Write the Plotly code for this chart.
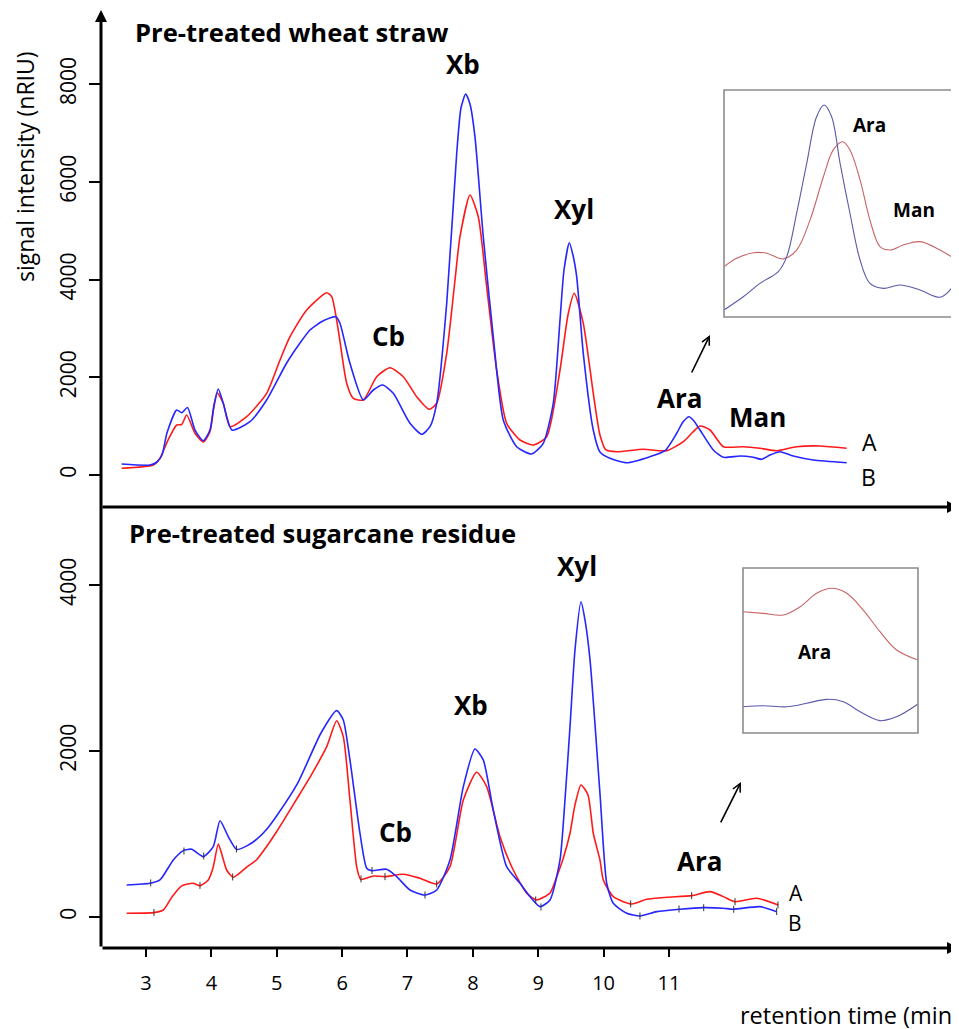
import plotly.graph_objects as go

# ---------------- data (retention time [min], signal [nRIU]) ----------------
TOP_A = [(2.628,137),(3.112,205),(3.214,342),(3.337,716),(3.470,1024),(3.546,1034),(3.623,1228),
         (3.750,854),(3.876,676),(3.979,886),(4.032,1331),(4.091,1679),(4.182,1468),(4.285,989),
         (4.540,1193),(4.846,1672),(5.050,2354),(5.203,2831),(5.458,3378),(5.764,3732),(5.841,3650),
         (5.941,2968),(6.070,1877),(6.171,1570),(6.324,1535),(6.529,2012),(6.732,2196),(6.936,2012),
         (7.141,1603),(7.333,1345),(7.447,1468),(7.600,2491),(7.727,3992),(7.803,4878),(7.956,5732),
         (8.083,5287),(8.211,3854),(8.364,2149),(8.517,1058),(8.721,716),(8.924,614),(9.129,784),
         (9.333,2149),(9.455,3275),(9.551,3719),(9.689,3105),(9.842,1672),(9.944,819),(10.036,512),
         (10.200,477),(10.607,526),(10.965,497),(11.219,682),(11.367,880),(11.474,1003),(11.627,921),
         (11.831,579),(12.136,579),(12.392,547),(12.647,497),(12.953,579),(13.310,594),(13.718,547)]
TOP_B = [(2.628,225),(3.061,205),(3.168,266),(3.245,409),(3.321,860),(3.470,1331),(3.546,1275),
         (3.635,1382),(3.750,921),(3.876,702),(3.979,921),(4.040,1433),(4.106,1760),(4.182,1468),
         (4.315,921),(4.591,1091),(4.846,1535),(5.152,2293),(5.356,2702),(5.509,2968),(5.712,3158),
         (5.906,3240),(5.967,3105),(6.120,2286),(6.324,1535),(6.477,1740),(6.621,1842),(6.783,1672),
         (7.038,1058),(7.217,833),(7.344,989),(7.447,1468),(7.600,3515),(7.753,6585),(7.818,7512),
         (7.890,7799),(7.956,7594),(8.032,6925),(8.159,4878),(8.312,2831),(8.465,1126),(8.670,579),
         (8.900,430),(9.077,649),(9.230,1468),(9.333,3173),(9.394,4196),(9.475,4755),(9.531,4503),
         (9.588,4059),(9.689,2491),(9.842,921),(9.944,471),(10.097,342),(10.353,252),(10.709,375),
         (10.939,497),(11.118,854),(11.214,1085),(11.306,1193),(11.382,1105),(11.474,921),(11.678,512),
         (11.831,362),(12.086,389),(12.289,362),(12.418,321),(12.545,409),(12.698,477),(12.901,389),
         (13.207,307),(13.718,252)]

BOT_A = [(2.705,45),(3.112,52),(3.265,84),(3.398,241),(3.546,374),(3.723,406),(3.826,377),(3.953,446),
         (4.025,590),(4.106,880),(4.163,747),(4.234,566),(4.335,478),(4.540,600),(4.693,690),(4.846,850),
         (5.000,1030),(5.305,1420),(5.550,1740),(5.764,2052),(5.917,2365),(6.018,2173),(6.120,1410),
         (6.223,606),(6.284,454),(6.477,494),(6.656,486),(6.936,515),(7.191,466),(7.447,398),(7.650,606),
         (7.854,1410),(8.058,1744),(8.211,1570),(8.415,968),(8.618,566),(8.823,286),(8.976,205),(9.180,289),
         (9.283,486),(9.384,711),(9.486,1009),(9.562,1350),(9.654,1591),(9.761,1470),(9.842,1009),
         (9.944,687),(9.995,446),(10.148,245),(10.429,157),(10.659,213),(10.965,237),(11.347,257),
         (11.627,305),(11.831,245),(12.010,184),(12.341,225),(12.672,145)]
BOT_B = [(2.705,386),(3.061,406),(3.214,446),(3.418,687),(3.571,799),(3.699,816),(3.876,727),(4.029,847),
         (4.132,1160),(4.259,968),(4.387,813),(4.550,860),(4.700,940),(4.850,1060),(5.000,1220),
         (5.325,1620),(5.677,2217),(5.917,2486),(6.018,2374),(6.120,1892),(6.273,1009),(6.376,587),(6.452,558),
         (6.682,575),(6.835,486),(7.038,325),(7.268,265),(7.447,325),(7.650,687),(7.854,1570),
         (8.032,2024),(8.159,1892),(8.312,1289),(8.517,606),(8.721,406),(8.874,245),(9.027,124),
         (9.180,205),(9.333,687),(9.409,1410),(9.486,2293),(9.562,3217),(9.654,3799),(9.715,3579),
         (9.792,3097),(9.944,1491),(10.047,406),(10.148,165),(10.353,45),(10.556,12),(10.812,64),
         (11.168,93),(11.525,112),(11.831,105),(11.984,93),(12.392,124),(12.647,64)]

# integration marks on the sugarcane chromatograms
BOT_A_MARKS = [(3.122,54),(3.826,380),(4.326,482),(6.289,458),(6.656,486),(7.447,398),(8.961,205),
               (10.414,157),(11.347,257),(12.010,184),(12.667,145)]
BOT_B_MARKS = [(3.072,410),(3.581,795),(3.883,735),(4.384,819),(6.457,560),(7.268,265),(9.042,120),
               (10.556,12),(11.153,96),(11.531,112),(11.990,93),(12.647,66)]

# zoomed insets (relative units 0..1)
INSET1_A = [(0,0.222),(0.054,0.259),(0.125,0.283),(0.182,0.281),(0.252,0.256),(0.309,0.295),(0.366,0.427),
            (0.423,0.618),(0.465,0.736),(0.505,0.772),(0.536,0.736),(0.579,0.604),(0.621,0.427),(0.664,0.310),
            (0.706,0.295),(0.763,0.317),(0.834,0.332),(0.919,0.295),(1.0,0.244)]
INSET1_B = [(0,0.031),(0.082,0.089),(0.153,0.148),(0.231,0.200),(0.267,0.266),(0.309,0.457),(0.352,0.677),
            (0.394,0.882),(0.426,0.934),(0.458,0.882),(0.494,0.677),(0.536,0.457),(0.579,0.251),(0.621,0.148),
            (0.678,0.126),(0.749,0.141),(0.834,0.119),(0.919,0.087),(0.962,0.119),(1.0,0.178)]
INSET2_A = [(0,0.735),(0.116,0.725),(0.230,0.715),(0.326,0.765),(0.421,0.847),(0.507,0.877),(0.593,0.847),
            (0.687,0.745),(0.783,0.614),(0.878,0.503),(1.0,0.442)]
INSET2_B = [(0,0.159),(0.116,0.165),(0.250,0.159),(0.364,0.180),(0.478,0.204),(0.573,0.190),(0.669,0.129),
            (0.783,0.075),(0.878,0.099),(1.0,0.176)]

X_TICKS = [3, 4, 5, 6, 7, 8, 9, 10, 11]
TOP_Y_TICKS = [0, 2000, 4000, 6000, 8000]
BOT_Y_TICKS = [0, 2000, 4000]

TITLE_TOP = "Pre-treated wheat straw"
TITLE_BOT = "Pre-treated sugarcane residue"
Y_TITLE = "signal intensity (nRIU)"
X_TITLE = "retention time (min)"

# ---------------------------------------------------------------------------
FONT = "Open Sans"
RED = "#ff1a1a"
BLUE = "#2626ff"


def xs(p):
    return [a for a, _ in p]


def ys(p):
    return [b for _, b in p]


fig = go.Figure()


def line(p, color, xa, ya, width=1.6, smooth=0.6):
    fig.add_trace(go.Scatter(x=xs(p), y=ys(p), mode="lines", xaxis=xa, yaxis=ya,
                             line=dict(color=color, width=width, shape="spline", smoothing=smooth),
                             hoverinfo="skip", showlegend=False))


line(TOP_A, RED, "x", "y")
line(TOP_B, BLUE, "x", "y")
line(BOT_A, RED, "x", "y2")
line(BOT_B, BLUE, "x", "y2")
for m in (BOT_A_MARKS, BOT_B_MARKS):
    fig.add_trace(go.Scatter(x=xs(m), y=ys(m), mode="markers", xaxis="x", yaxis="y2",
                             marker=dict(symbol="line-ns", size=5, line=dict(color="#333333", width=1)),
                             hoverinfo="skip", showlegend=False))

line(INSET1_A, "#c86464", "x3", "y3", width=1.1, smooth=1)
line(INSET1_B, "#5a5aaa", "x3", "y3", width=1.1, smooth=1)
line(INSET2_A, "#c86464", "x4", "y4", width=1.1, smooth=1)
line(INSET2_B, "#5a5aaa", "x4", "y4", width=1.1, smooth=1)

# the page adds an 8px body margin; positions below are expressed in page pixels
OFF = 8
W, H = 959, 1029
AX_BOTTOM = 948          # page row of the x axis
ML = 101 - OFF           # figure column of the y axis
MR = OFF
PH = AX_BOTTOM - OFF     # plot height in figure px (t=0)
MB = H - PH


def py(p):  # page row -> paper y
    return (AX_BOTTOM - p) / PH


def pxp(p):  # page column -> paper x
    return (p - 101) / (W - ML - MR)


tickfont = dict(family=FONT, size=21, color="black")
yax_common = dict(showgrid=False, zeroline=False, showline=False, ticks="outside", ticklen=11,
                  tickwidth=2, tickcolor="black", tickangle=-90, tickfont=tickfont, anchor="x",
                  ticklabelstandoff=5)

fig.update_layout(
    width=W, height=H, margin=dict(l=ML, r=MR, t=0, b=MB),
    paper_bgcolor="white", plot_bgcolor="white",
    font=dict(family=FONT, color="black"),
    xaxis=dict(domain=[0, 1], range=[2.312, 15.436], anchor="y2", showgrid=False, zeroline=False,
               showline=False, ticks="outside", ticklen=8, tickwidth=2, tickcolor="black",
               tickvals=X_TICKS, tickfont=dict(family=FONT, size=20, color="black"), ticklabelstandoff=9),
    yaxis=dict(domain=[py(507), 1.0], range=[-655, 9559], tickvals=TOP_Y_TICKS, **yax_common),
    yaxis2=dict(domain=[0, py(507)], range=[-374, 4940], tickvals=BOT_Y_TICKS, **yax_common),
    xaxis3=dict(domain=[pxp(724), 1.0], range=[0, 1], anchor="y3", visible=False),
    yaxis3=dict(domain=[py(317), py(90)], range=[0, 1], anchor="x3", visible=False),
    xaxis4=dict(domain=[pxp(743), pxp(918)], range=[0, 1], anchor="y4", visible=False),
    yaxis4=dict(domain=[py(733), py(568)], range=[0, 1], anchor="x4", visible=False),
)

# inset frames
fig.add_shape(type="rect", xref="paper", yref="paper", x0=pxp(724), x1=1.05, y0=py(317), y1=py(90),
              line=dict(color="#8c8c8c", width=1.6))
fig.add_shape(type="rect", xref="paper", yref="paper", x0=pxp(743), x1=pxp(918), y0=py(733), y1=py(568),
              line=dict(color="#8c8c8c", width=1.6))

# axis lines with arrowheads
axis_arrow = dict(xref="paper", yref="paper", text="", showarrow=True, arrowhead=2, arrowsize=0.8,
                  arrowwidth=3, arrowcolor="black", standoff=0, startstandoff=0)
fig.add_annotation(x=0, y=py(10), ax=0, ay=AX_BOTTOM - 10, **axis_arrow)
fig.add_annotation(x=1.0, y=py(507), ax=-(959 - 101), ay=0, **axis_arrow)
fig.add_annotation(x=1.0, y=0, ax=-(959 - 101), ay=0, **axis_arrow)

# titles
fig.add_annotation(x=pxp(133), y=py(32), xref="paper", yref="paper", text=TITLE_TOP, showarrow=False,
                   xanchor="left", yanchor="middle", font=dict(family=FONT, size=25.6, color="black", weight="bold"))
fig.add_annotation(x=pxp(127), y=py(533), xref="paper", yref="paper", text=TITLE_BOT, showarrow=False,
                   xanchor="left", yanchor="middle", font=dict(family=FONT, size=25.6, color="black", weight="bold"))
fig.add_annotation(x=pxp(25), y=py(167), xref="paper", yref="paper", text=Y_TITLE, showarrow=False,
                   textangle=-90, xanchor="center", yanchor="middle", font=dict(family=FONT, size=23, color="black"))
fig.add_annotation(x=pxp(738), y=py(1015), xref="paper", yref="paper", text=X_TITLE, showarrow=False,
                   xanchor="left", yanchor="middle", font=dict(family=FONT, size=23.5, color="black"))

bold = dict(family=FONT, size=26, color="black", weight="bold")
reg = dict(family=FONT, size=23, color="black")
reg_small = dict(family=FONT, size=21, color="black")
labels = [("Xb", 7.849, 8413, "y", bold), ("Xyl", 9.547, 5445, "y", bold), ("Cb", 6.717, 2845, "y", bold),
          ("Ara", 11.168, 1576, "y", bold), ("Man", 12.361, 1187, "y", bold),
          ("A", 14.074, 676, "y", reg), ("B", 14.044, -41, "y", reg),
          ("Xyl", 9.593, 4230, "y2", bold), ("Xb", 7.971, 2555, "y2", bold), ("Cb", 6.824, 1024, "y2", bold),
          ("Ara", 11.474, 675, "y2", bold), ("A", 12.942, 290, "y2", reg_small), ("B", 12.927, -72, "y2", reg_small)]
for t, x, y, ya, f in labels:
    fig.add_annotation(x=x, y=y, xref="x", yref=ya, text=t, showarrow=False, font=f)

ibold = dict(family=FONT, size=19, color="black", weight="bold")
fig.add_annotation(x=0.621, y=0.846, xref="x3", yref="y3", text="Ara", showarrow=False, font=ibold)
fig.add_annotation(x=0.809, y=0.471, xref="x3", yref="y3", text="Man", showarrow=False, font=ibold)
fig.add_annotation(x=0.406, y=0.491, xref="x4", yref="y4", text="Ara", showarrow=False, font=ibold)

# pointer arrows towards the insets
ptr = dict(text="", showarrow=True, arrowhead=5, arrowsize=1.0, arrowwidth=1.6, arrowcolor="black",
           standoff=0, startstandoff=0)
fig.add_annotation(x=11.627, y=2866, ax=11.336, ay=2067, xref="x", yref="y", axref="x", ayref="y", **ptr)
fig.add_annotation(x=12.101, y=1627, ax=11.780, ay=1121, xref="x", yref="y2", axref="x", ayref="y2", **ptr)

fig.write_html("out.html")
